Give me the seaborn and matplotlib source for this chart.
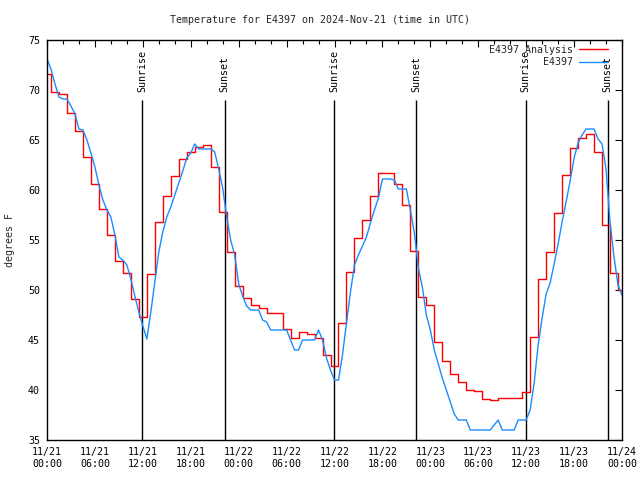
import numpy as np
import pandas as pd
import matplotlib
matplotlib.use("Agg")
import matplotlib.pyplot as plt
from matplotlib.ticker import MultipleLocator
import seaborn as sns

# Data (hours since 11/21 00:00 UTC)
analysis_hours = list(range(0, 73))
analysis_temp = [
    71.6, 69.8, 69.6, 67.7, 65.9, 63.3, 60.6, 58.1, 55.5, 52.9, 51.7, 49.1,
    47.3, 51.6, 56.8, 59.4, 61.4, 63.1, 63.8, 64.3, 64.5, 62.3, 57.8, 53.8,
    50.4, 49.2, 48.5, 48.2, 47.7, 47.7, 46.1, 45.2, 45.8, 45.6, 45.2, 43.5,
    42.4, 46.7, 51.8, 55.2, 57.0, 59.4, 61.7, 61.7, 60.6, 58.5, 53.9, 49.3,
    48.5, 44.8, 42.9, 41.6, 40.8, 40.0, 39.9, 39.1, 39.0, 39.2, 39.2, 39.2,
    39.8, 45.3, 51.1, 53.8, 57.7, 61.5, 64.2, 65.2, 65.6, 63.8, 56.5, 51.7,
    50.0,
]

obs_hours = [i * 0.5 for i in range(0, 145)]
obs_temp = [
    73.1, 72.1, 70.6, 69.3, 69.1, 69.1, 68.4, 67.6, 66.1, 66.0, 65.0, 63.7,
    62.3, 60.5, 59.0, 58.0, 57.3, 55.5, 53.3, 53.0, 52.5, 51.1, 49.4, 47.8,
    46.4, 45.1, 47.8, 50.8, 53.8, 55.8, 57.3, 58.3, 59.5, 60.7, 61.9, 63.2,
    63.7, 64.6, 64.1, 64.1, 64.1, 64.1, 63.8, 62.1, 60.2, 57.3, 55.0, 53.5,
    50.6, 49.4, 48.4, 48.0, 48.0, 48.0, 47.0, 46.8, 46.0, 46.0, 46.0, 46.0,
    46.0, 45.0, 44.0, 44.0, 45.0, 45.0, 45.0, 45.0, 46.0, 45.0, 43.2, 42.0,
    41.0, 41.0, 43.5, 46.7, 49.8, 52.5, 53.5, 54.4, 55.3, 56.7, 58.0, 59.2,
    61.1, 61.1, 61.1, 61.0, 60.1, 60.1, 60.1, 58.0, 55.7, 52.2, 50.3, 47.5,
    46.0, 44.0, 42.6, 41.2, 40.0, 38.8, 37.6, 37.0, 37.0, 37.0, 36.0, 36.0,
    36.0, 36.0, 36.0, 36.0, 36.5, 37.0, 36.0, 36.0, 36.0, 36.0, 37.0, 37.0,
    37.0, 38.0, 40.7, 44.5, 47.2, 49.6, 50.7, 52.6, 54.6, 56.8, 58.8, 60.9,
    63.2, 64.7, 65.5, 66.1, 66.1, 66.1, 65.1, 64.6, 62.1, 56.8, 53.3, 50.5,
    49.5,
]

sun_hours = [11.95, 22.25, 35.95, 46.25, 59.95, 70.2]
sun_labels = ["Sunrise", "Sunset", "Sunrise", "Sunset", "Sunrise", "Sunset"]

tick_hours = list(range(0, 73, 6))
tick_labels = [
    "11/21\n00:00", "11/21\n06:00", "11/21\n12:00", "11/21\n18:00",
    "11/22\n00:00", "11/22\n06:00", "11/22\n12:00", "11/22\n18:00",
    "11/23\n00:00", "11/23\n06:00", "11/23\n12:00", "11/23\n18:00",
    "11/24\n00:00",
]

sns.set_theme(style="white")
plt.rcParams['font.family'] = ['DejaVu Sans Mono', 'DejaVu Sans']
plt.rcParams['axes.unicode_minus'] = False

RED = "#ff0000"
BLUE = "#1a8cff"
FS = 7.2

df_a = pd.DataFrame({"hour": analysis_hours, "temp": analysis_temp})
df_o = pd.DataFrame({"hour": obs_hours, "temp": obs_temp})

fig = plt.figure(figsize=(6.4, 4.8), dpi=100)
ax = fig.add_axes([47 / 640, 40 / 480, 575 / 640, 400 / 480])

# sunrise / sunset markers
ax.vlines(sun_hours, 35, 69, color="black", lw=1, zorder=1)
for h, lab in zip(sun_hours, sun_labels):
    ax.text(h, 69.8, lab, rotation=90, ha="center", va="bottom",
            fontsize=FS, color="black", zorder=3)

sns.lineplot(data=df_a, x="hour", y="temp", ax=ax, color=RED, lw=1,
             drawstyle="steps-mid", label="E4397 Analysis", zorder=2)
sns.lineplot(data=df_o, x="hour", y="temp", ax=ax, color=BLUE, lw=1,
             label="         E4397", zorder=2)

ax.set_xlim(0, 72)
ax.set_ylim(35, 75)
ax.set_xticks(tick_hours)
ax.set_xticklabels(tick_labels)
ax.xaxis.set_minor_locator(MultipleLocator(2))
ax.set_yticks(range(35, 76, 5))
ax.tick_params(axis="both", which="both", direction="in", top=True, right=True,
               colors="black", labelsize=FS, width=0.8)
ax.tick_params(axis="both", which="major", length=5, pad=5)
ax.tick_params(axis="both", which="minor", length=3)
ax.set_xlabel("")
ax.set_ylabel("")
for s in ax.spines.values():
    s.set_color("black")
    s.set_linewidth(1)
ax.grid(False)

leg = ax.legend(loc="upper right", frameon=False, markerfirst=False,
                fontsize=FS, handlelength=2.9, handletextpad=0.6,
                borderaxespad=0.2, borderpad=0.3, labelspacing=0.25,
                bbox_to_anchor=(0.985, 1.0))

fig.text(0.5, 1 - 20 / 480, "Temperature for E4397 on 2024-Nov-21 (time in UTC)",
         ha="center", va="center", fontsize=FS)
fig.text(10 / 640, 0.5, "degrees F", rotation=90, ha="center", va="center",
         fontsize=FS)

fig.savefig("out.png", dpi=100)
plt.close(fig)
